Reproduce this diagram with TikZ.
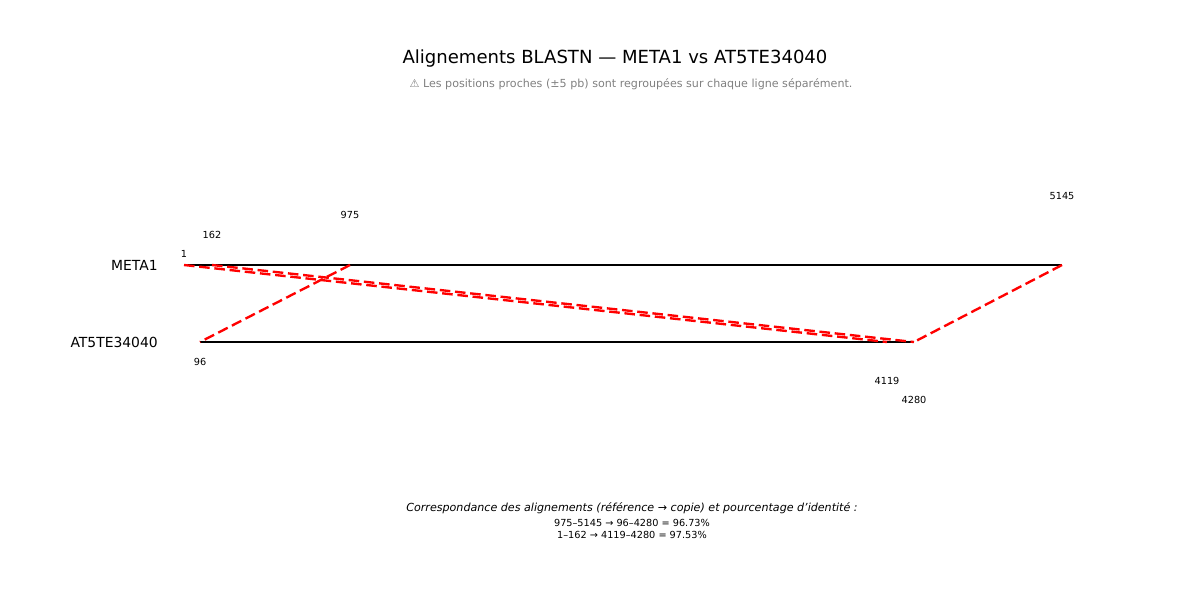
\documentclass[tikz,border=0pt]{standalone}
\usepackage{fontspec}
\setmainfont{DejaVu Sans}
\begin{document}
\begin{tikzpicture}[x=0.72pt,y=-0.72pt,
  seq/.style={line width=1.8pt,black},
  aln/.style={line width=1.7pt,red,dash pattern=on 7.6pt off 3.4pt},
  poslabel/.style={font=\fontsize{7}{8}\selectfont,inner sep=0pt,anchor=center},
  seqlabel/.style={font=\fontsize{10}{12}\selectfont,inner sep=0pt,anchor=east}]
\useasboundingbox (0,0) rectangle (1200,600);
\node[font=\fontsize{13}{15}\selectfont,inner sep=0pt] (title) at (615,59) {Alignements BLASTN — META1 vs AT5TE34040};
\node[font=\fontsize{8}{10}\selectfont,text=gray,inner sep=0pt] (sub) at (631,84) {⚠ Les positions proches (±5 pb) sont regroupées sur chaque ligne séparément.};
\node[seqlabel] (l1) at (158,265) {META1};
\node[seqlabel] (l2) at (158,342) {AT5TE34040};
\coordinate (a1) at (184,265);
\coordinate (a162) at (212,265);
\coordinate (a975) at (350,265);
\coordinate (a5145) at (1062,265);
\coordinate (b96) at (200,342);
\coordinate (b4119) at (887,342);
\coordinate (b4280) at (914,342);
\draw[seq] (a1) -- (a5145);
\draw[seq] (b96) -- (b4280);
\draw[aln] (a975) -- (b96);
\draw[aln] (a5145) -- (b4280);
\draw[aln] (a1) -- (b4119);
\draw[aln] (a162) -- (b4280);
\node[poslabel] (t1) at (184,254) {1};
\node[poslabel] (t162) at (212,235) {162};
\node[poslabel] (t975) at (350,215) {975};
\node[poslabel] (t5145) at (1062,196) {5145};
\node[poslabel] (t96) at (200,362) {96};
\node[poslabel] (t4119) at (887,381) {4119};
\node[poslabel] (t4280) at (914,400) {4280};
\node[font=\fontsize{8}{10}\selectfont\itshape,inner sep=0pt] (cap) at (632,508) {Correspondance des alignements (référence → copie) et pourcentage d'identité :};
\node[font=\fontsize{7}{8}\selectfont,inner sep=0pt] (c1) at (632,523) {975–5145 → 96–4280 = 96.73\%};
\node[font=\fontsize{7}{8}\selectfont,inner sep=0pt] (c2) at (632,535) {1–162 → 4119–4280 = 97.53\%};
\end{tikzpicture}
\end{document}
